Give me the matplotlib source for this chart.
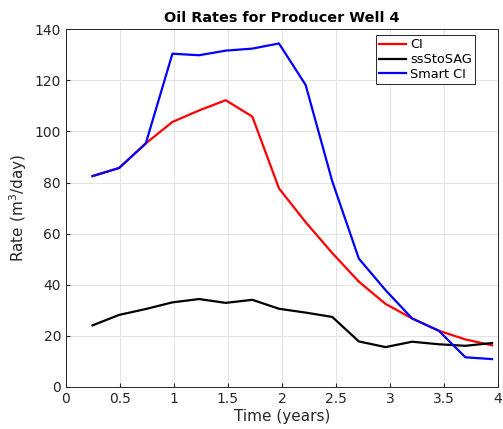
import numpy as np
import matplotlib
matplotlib.use('Agg')
from matplotlib import pyplot as plt

# time axis: quarterly report steps (90 days)
time_yr = [k * 90 / 365 for k in range(1, 17)]

ci = [82.5, 85.7, 95.3, 103.7, 108.2, 112.2, 105.8, 77.7, 64.5, 52.4,
      41.2, 32.5, 26.8, 22.0, 18.6, 16.3]
sssto_sag = [24.1, 28.2, 30.5, 33.1, 34.4, 32.9, 34.1, 30.6, 29.1, 27.4,
             17.8, 15.6, 17.7, 16.7, 16.1, 17.2]
smart_ci = [82.5, 85.7, 95.3, 130.4, 129.8, 131.6, 132.4, 134.4, 118.2, 80.5,
            50.2, 37.9, 26.8, 22.0, 11.6, 10.9]

plt.rcParams['font.family'] = 'DejaVu Sans'

fig = plt.figure(figsize=(5.03, 4.29), dpi=100)
ax = fig.add_axes([0.131, 0.098, 0.859, 0.834])

ax.plot(time_yr, ci, color='red', lw=1.6, label='CI')
ax.plot(time_yr, sssto_sag, color='black', lw=1.6, label='ssStoSAG')
ax.plot(time_yr, smart_ci, color='blue', lw=1.6, label='Smart CI')

ax.set_xlim(0, 4)
ax.set_ylim(0, 140)
ax.set_xticks(np.arange(0, 4.01, 0.5))
ax.set_xticklabels(['0', '0.5', '1', '1.5', '2', '2.5', '3', '3.5', '4'])
ax.set_yticks(np.arange(0, 141, 20))
ax.grid(True, color='#e3e3e3', lw=0.7)
ax.set_axisbelow(True)
ax.tick_params(direction='in', length=3, labelsize=10, colors='#262626',
               top=False, right=False)
for s in ax.spines.values():
    s.set_color('#262626')
    s.set_linewidth(0.7)

ax.set_xlabel('Time (years)', fontsize=11, color='#262626', labelpad=2)
ax.set_ylabel('Rate (m$^3$/day)', fontsize=11, color='#262626')
ax.set_title('Oil Rates for Producer Well 4', fontsize=10.4, fontweight='bold', pad=5)

leg = ax.legend(loc='upper right', bbox_to_anchor=(0.947, 0.983), fontsize=9.3,
                fancybox=False, framealpha=1, edgecolor='#262626',
                handlelength=2.1, borderpad=0.25, labelspacing=0.12,
                handletextpad=0.3, borderaxespad=0.0)
leg.get_frame().set_linewidth(0.7)

fig.savefig('out.png', dpi=100)
